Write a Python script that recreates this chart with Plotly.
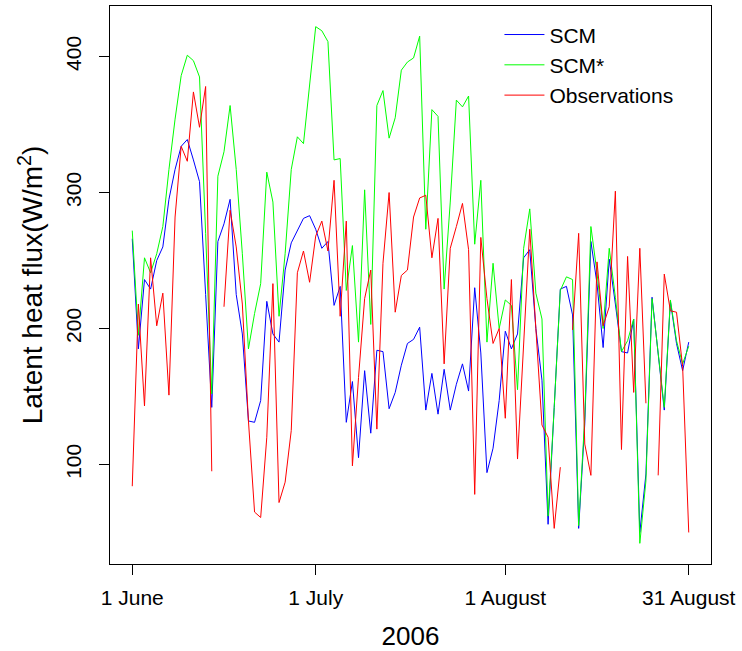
import pandas as pd
import plotly.graph_objects as go

dates = pd.date_range("2006-06-01", "2006-08-31", freq="D")

scm = [266, 185, 236, 229, 250, 260, 295, 317, 334, 339, 324, 308, 225, 142, 264, 277,
       295, 225, 196, 132, 131, 147, 220, 196, 190, 243, 263, 272, 281, 283, 273, 259,
       264, 217, 231, 131, 161, 105, 169, 123, 184, 183, 141, 153, 173, 189, 192, 201,
       140, 167, 137, 170, 140, 159, 174, 154, 230, 182, 94, 112, 147, 198, 185, 196,
       252, 258, 200, 162, 56, 142, 229, 231, 210, 53, 130, 264, 233, 186, 251, 218,
       183, 182, 207, 50, 93, 223, 180, 140, 220, 189, 169, 190]

scm_star = [272, 195, 252, 241, 255, 275, 317, 354, 386, 401, 397, 385, 270, 152, 312, 330,
            364, 317, 255, 185, 211, 233, 315, 293, 209, 255, 317, 341, 336, 379, 422, 419,
            411, 324, 325, 228, 261, 190, 302, 203, 364, 375, 340, 355, 390, 396, 399, 415,
            273, 361, 356, 229, 293, 368, 363, 371, 262, 309, 190, 248, 200, 221, 217, 155,
            259, 288, 226, 207, 62, 142, 228, 238, 236, 55, 135, 275, 241, 200, 259, 223,
            183, 191, 207, 42, 88, 222, 182, 142, 221, 191, 174, 187]

obs = [84, 218, 143, 252, 202, 226, 151, 282, 334, 323, 374, 348, 378, 95, None, 216,
       287, 260, 218, 132, 65, 61, 120, 233, 72, 87, 125, 241, 257, 234, 268, 279,
       257, 309, 209, 279, 99, 164, 222, 243, 126, 248, 300, 212, 239, 243, 282, 296,
       298, 252, 281, 174, 259, 275, 292, 258, 78, 267, 222, 189, 200, 134, 236, 104,
       191, 273, 200, 129, 120, 53, 98, None, 199, 270, 115, 92, 249, 202, 216, 301,
       111, 253, 153, 259, 145, None, 92, 240, 213, 212, 172, 50]

tick_dates = ["2006-06-01", "2006-07-01", "2006-08-01", "2006-08-31"]
tick_text = ["1 June", "1 July", "1 August", "31 August"]
y_ticks = [100, 200, 300, 400]

FONT = "Liberation Sans, Arial, sans-serif"

fig = go.Figure()
for name, vals, col in [("SCM", scm, "#0000FF"),
                        ("SCM*", scm_star, "#00FF00"),
                        ("Observations", obs, "#FF0000")]:
    fig.add_trace(go.Scatter(x=dates, y=vals, mode="lines", name=name,
                             line=dict(color=col, width=1), connectgaps=False))

# R-style 4% range extension
span = dates[-1] - dates[0]
xr = [dates[0] - 0.04 * span, dates[-1] + 0.04 * span]
all_vals = [v for v in scm + scm_star + obs if v is not None]
lo, hi = min(all_vals), max(all_vals)
pad = 0.04 * (hi - lo)
yr = [lo - pad, hi + pad]

fig.update_layout(
    width=742, height=651,
    margin=dict(l=110, r=31, t=6, b=87),
    paper_bgcolor="white", plot_bgcolor="white",
    font=dict(family=FONT, color="black", size=21),
    showlegend=True,
    legend=dict(x=0.648, y=0.985, xanchor="left", yanchor="top",
                bgcolor="rgba(0,0,0,0)", borderwidth=0,
                font=dict(size=21, family=FONT), itemwidth=40, tracegroupgap=0),
    xaxis=dict(type="date", range=xr, tickvals=tick_dates, ticktext=tick_text,
               showgrid=False, zeroline=False, showline=True, mirror=True,
               linecolor="black", linewidth=1, ticks="outside", ticklen=10,
               tickcolor="black", tickfont=dict(size=21), ticklabelstandoff=5,
               title=dict(text="2006", font=dict(size=26), standoff=18)),
    yaxis=dict(range=yr, tickvals=y_ticks, showgrid=False, zeroline=False,
               showline=True, mirror=True, linecolor="black", linewidth=1,
               ticks="outside", ticklen=10, tickcolor="black", tickangle=-90,
               tickfont=dict(size=21), ticklabelstandoff=10,
               title=dict(text="Latent heat flux(W/m<sup>2</sup>)",
                          font=dict(size=28), standoff=10)),
)

fig.write_html("out.html")
